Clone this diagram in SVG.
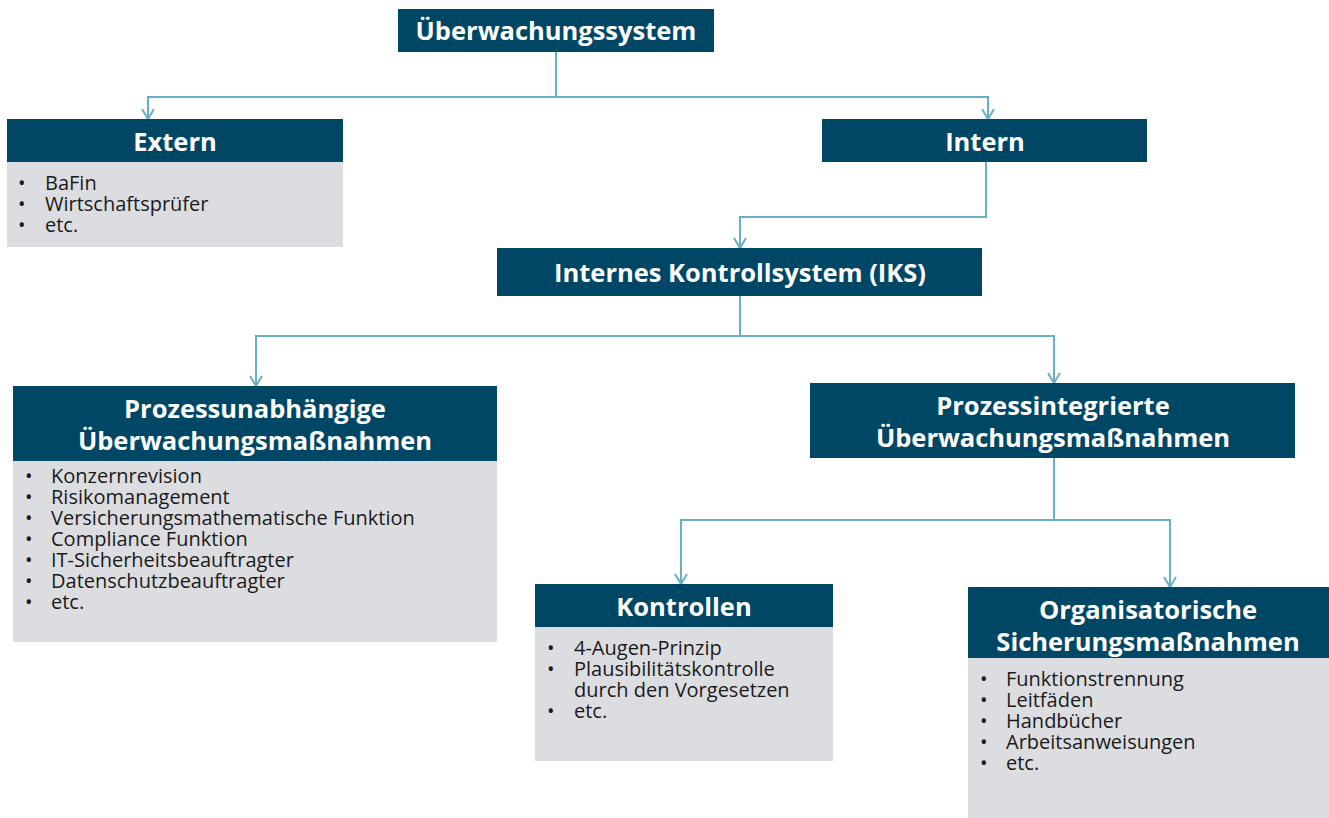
<svg xmlns="http://www.w3.org/2000/svg" width="1329" height="818" viewBox="0 0 1329 818">
<style>
.hd{fill:#004766}
.bd{fill:#dcdde1}
.ht{font-family:"Open Sans","Noto Sans",sans-serif;font-weight:bold;font-size:25.5px;fill:#ffffff;text-anchor:middle}
.bt{font-family:"Open Sans","Noto Sans",sans-serif;font-size:20px;fill:#1a1a1a}
.cn{fill:none;stroke:#6aafc8;stroke-width:2}
</style>
<defs>
<marker id="ar" viewBox="0 0 12 14" refX="11" refY="7" markerWidth="12" markerHeight="14" markerUnits="userSpaceOnUse" orient="auto">
<path d="M1,1 L11,7 L1,13" fill="none" stroke="#6aafc8" stroke-width="2"/>
</marker>
</defs>
<g id="connectors">
<path class="cn" d="M556,52 V97"/>
<path class="cn" d="M556,97 H148 V119" marker-end="url(#ar)"/>
<path class="cn" d="M556,97 H988 V119" marker-end="url(#ar)"/>
<path class="cn" d="M986,162 V217 H740 V248" marker-end="url(#ar)"/>
<path class="cn" d="M740,296 V336"/>
<path class="cn" d="M740,336 H256 V386" marker-end="url(#ar)"/>
<path class="cn" d="M740,336 H1054 V383" marker-end="url(#ar)"/>
<path class="cn" d="M1054,458 V520"/>
<path class="cn" d="M1054,520 H681 V584" marker-end="url(#ar)"/>
<path class="cn" d="M1054,520 H1170 V587" marker-end="url(#ar)"/>
</g>
<g id="n-ueberwachungssystem">
<rect class="hd" x="398" y="9" width="316" height="43"/>
<text class="ht" x="556" y="40">Überwachungssystem</text>
</g>
<g id="n-extern">
<rect class="hd" x="7" y="119" width="336" height="43"/>
<rect class="bd" x="7" y="162" width="336" height="85"/>
<text class="ht" x="175" y="151">Extern</text>
<g class="bt">
<text x="18" y="190">•<tspan x="45">BaFin</tspan></text>
<text x="18" y="211">•<tspan x="45">Wirtschaftsprüfer</tspan></text>
<text x="18" y="232">•<tspan x="45">etc.</tspan></text>
</g>
</g>
<g id="n-intern">
<rect class="hd" x="822" y="119" width="325" height="43"/>
<text class="ht" x="985" y="151">Intern</text>
</g>
<g id="n-iks">
<rect class="hd" x="497" y="248" width="485" height="48"/>
<text class="ht" x="740" y="282">Internes Kontrollsystem (IKS)</text>
</g>
<g id="n-prozessunabhaengig">
<rect class="hd" x="13" y="386" width="484" height="75"/>
<rect class="bd" x="13" y="461" width="484" height="181"/>
<text class="ht" x="255" y="418">Prozessunabhängige</text>
<text class="ht" x="255" y="450">Überwachungsmaßnahmen</text>
<g class="bt">
<text x="25" y="483">•<tspan x="51">Konzernrevision</tspan></text>
<text x="25" y="504">•<tspan x="51">Risikomanagement</tspan></text>
<text x="25" y="525">•<tspan x="51">Versicherungsmathematische Funktion</tspan></text>
<text x="25" y="546">•<tspan x="51">Compliance Funktion</tspan></text>
<text x="25" y="567">•<tspan x="51">IT-Sicherheitsbeauftragter</tspan></text>
<text x="25" y="588">•<tspan x="51">Datenschutzbeauftragter</tspan></text>
<text x="25" y="609">•<tspan x="51">etc.</tspan></text>
</g>
</g>
<g id="n-prozessintegriert">
<rect class="hd" x="810" y="383" width="485" height="75"/>
<text class="ht" x="1053" y="415">Prozessintegrierte</text>
<text class="ht" x="1053" y="447">Überwachungsmaßnahmen</text>
</g>
<g id="n-kontrollen">
<rect class="hd" x="535" y="584" width="298" height="43"/>
<rect class="bd" x="535" y="627" width="298" height="134"/>
<text class="ht" x="684" y="616">Kontrollen</text>
<g class="bt">
<text x="547" y="655">•<tspan x="574">4-Augen-Prinzip</tspan></text>
<text x="547" y="676">•<tspan x="574">Plausibilitätskontrolle</tspan></text>
<text x="574" y="697">durch den Vorgesetzen</text>
<text x="547" y="718">•<tspan x="574">etc.</tspan></text>
</g>
</g>
<g id="n-organisatorisch">
<rect class="hd" x="968" y="587" width="361" height="71"/>
<rect class="bd" x="968" y="658" width="361" height="160"/>
<text class="ht" x="1148" y="619">Organisatorische</text>
<text class="ht" x="1148" y="651">Sicherungsmaßnahmen</text>
<g class="bt">
<text x="980" y="686">•<tspan x="1006">Funktionstrennung</tspan></text>
<text x="980" y="707">•<tspan x="1006">Leitfäden</tspan></text>
<text x="980" y="728">•<tspan x="1006">Handbücher</tspan></text>
<text x="980" y="749">•<tspan x="1006">Arbeitsanweisungen</tspan></text>
<text x="980" y="770">•<tspan x="1006">etc.</tspan></text>
</g>
</g>
</svg>
